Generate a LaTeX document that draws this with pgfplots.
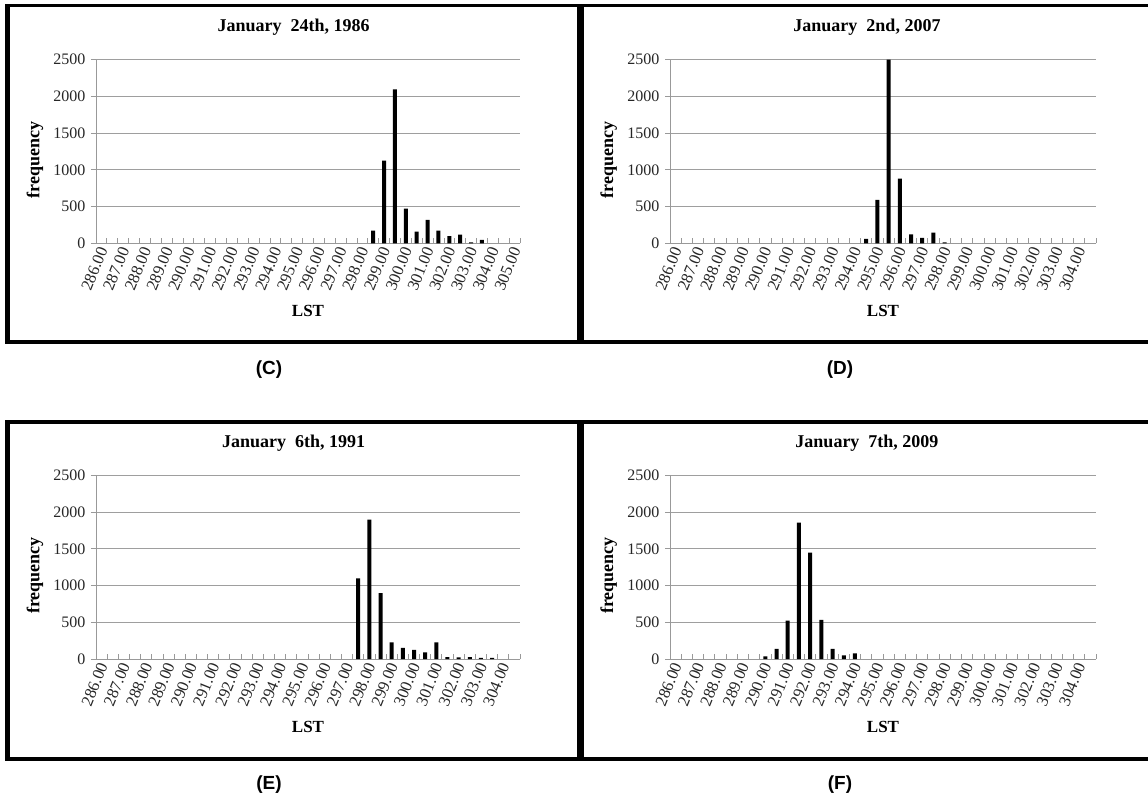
\documentclass[border=0pt]{standalone}
\usepackage{fontspec}
\setmainfont{Liberation Serif}
\newfontfamily\arialf{Liberation Sans}
\usepackage{pgfplots}
\pgfplotsset{compat=1.18}
\pgfplotsset{
 panel/.style={
  scale only axis, height=183.6pt, anchor=south west,
  ybar, bar width=4pt,
  ymin=0, ymax=2500, ytick={0,500,1000,1500,2000,2500},
  ymajorgrids, major grid style={draw=black!38, line width=0.9pt},
  axis x line*=bottom, axis y line*=left,
  axis line style={-, draw=black!40, line width=0.9pt},
  tick align=outside, major tick length=5pt,
  every tick/.style={draw=black!40, line width=0.8pt},
  xtick style={yshift=5pt},
  xmin=285.75,
  xticklabels={},
  extra x tick style={major tick length=0pt},
  xticklabel style={rotate=68, anchor=east, font=\fontsize{16.5}{16.5}\selectfont, yshift=-3pt, text=black!85},
  yticklabel style={font=\fontsize{16}{16}\selectfont, xshift=-2pt, text=black!85},
  /pgf/number format/assume math mode=true,
  /pgf/number format/1000 sep={},
  xlabel={LST}, ylabel={frequency},
  xlabel style={font=\bfseries\fontsize{17}{17}\selectfont, at={(axis description cs:0.5,-0.37)}, anchor=center},
  ylabel style={font=\bfseries\fontsize{18}{18}\selectfont, at={(axis description cs:-0.144,0.455)}, anchor=center, rotate=0},
  title style={font=\bfseries\fontsize{18}{18}\selectfont, anchor=center, yshift=26.7pt},
 }
}
\begin{document}
\begin{tikzpicture}
\useasboundingbox (0pt,0pt) rectangle (1148pt,798pt);
% frames
\fill[black] (5pt,790.5pt) rectangle (1148pt,794pt);
\fill[black] (5pt,454pt) rectangle (1148pt,457.5pt);
\fill[black] (5pt,454pt) rectangle (10pt,794pt);
\fill[black] (577pt,454pt) rectangle (584pt,794pt);
\fill[black] (5pt,374pt) rectangle (1148pt,378pt);
\fill[black] (5pt,37pt) rectangle (1148pt,41pt);
\fill[black] (5pt,37pt) rectangle (10pt,378pt);
\fill[black] (577pt,37pt) rectangle (584pt,378pt);
\node[font=\arialf\bfseries\fontsize{19}{19}\selectfont] at (269pt,428pt) {(C)};
\node[font=\arialf\bfseries\fontsize{19}{19}\selectfont] at (840pt,428pt) {(D)};
\node[font=\arialf\bfseries\fontsize{19}{19}\selectfont] at (269pt,13pt) {(E)};
\node[font=\arialf\bfseries\fontsize{19}{19}\selectfont] at (840pt,13pt) {(F)};

% (C)
\begin{axis}[panel, at={(96pt,554.7pt)}, width=424pt, xmax=305.25,
  title={January\ \ 24th, 1986}, title style={at={(axis description cs:0.466,1)}},
  xtick={285.75,286.25,...,305.25},
  extra x ticks={286,287,...,305},
  extra x tick labels={286.00,287.00,288.00,289.00,290.00,291.00,292.00,293.00,294.00,295.00,296.00,297.00,298.00,299.00,300.00,301.00,302.00,303.00,304.00,305.00}]
\addplot[fill=black, draw=none] coordinates {(298.5,172) (299,1125) (299.5,2095) (300,472) (300.5,160) (301,318) (301.5,172) (302,98) (302.5,118) (303,14) (303.5,45)};
\end{axis}

% (D)
\begin{axis}[panel, at={(670pt,554.7pt)}, width=426pt, xmax=304.75,
  title={January\ \ 2nd, 2007}, title style={at={(axis description cs:0.4624,1)}},
  xtick={285.75,286.25,...,304.75},
  extra x ticks={286,287,...,304},
  extra x tick labels={286.00,287.00,288.00,289.00,290.00,291.00,292.00,293.00,294.00,295.00,296.00,297.00,298.00,299.00,300.00,301.00,302.00,303.00,304.00}]
\addplot[fill=black, draw=none] coordinates {(294.5,59) (295,590) (295.5,2500) (296,881) (296.5,123) (297,73) (297.5,145) (298,14)};
\end{axis}

% (E)
\begin{axis}[panel, at={(96pt,139pt)}, width=424pt, xmax=304.75,
  title={January\ \ 6th, 1991}, title style={at={(axis description cs:0.466,1)}},
  xtick={285.75,286.25,...,304.75},
  extra x ticks={286,287,...,304},
  extra x tick labels={286.00,287.00,288.00,289.00,290.00,291.00,292.00,293.00,294.00,295.00,296.00,297.00,298.00,299.00,300.00,301.00,302.00,303.00,304.00}]
\addplot[fill=black, draw=none] coordinates {(297.5,1097) (298,1899) (298.5,897) (299,228) (299.5,150) (300,123) (300.5,91) (301,228) (301.5,27) (302,23) (302.5,27) (303,14) (303.5,14)};
\end{axis}

% (F)
\begin{axis}[panel, at={(670pt,139pt)}, width=426pt, xmax=304.75,
  title={January\ \ 7th, 2009}, title style={at={(axis description cs:0.4624,1)}},
  xtick={285.75,286.25,...,304.75},
  extra x ticks={286,287,...,304},
  extra x tick labels={286.00,287.00,288.00,289.00,290.00,291.00,292.00,293.00,294.00,295.00,296.00,297.00,298.00,299.00,300.00,301.00,302.00,303.00,304.00}]
\addplot[fill=black, draw=none] coordinates {(290,35) (290.5,137) (291,523) (291.5,1858) (292,1448) (292.5,533) (293,137) (293.5,50) (294,78)};
\end{axis}
\end{tikzpicture}
\end{document}
